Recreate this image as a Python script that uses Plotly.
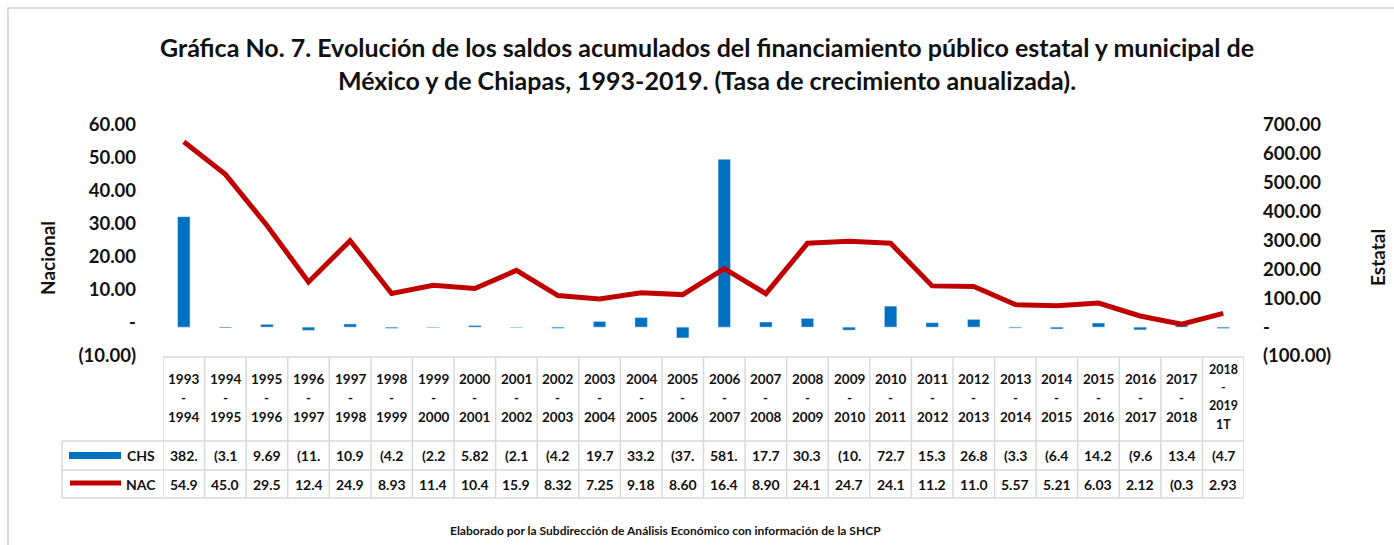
import plotly.graph_objects as go

periods = ["1993-1994", "1994-1995", "1995-1996", "1996-1997", "1997-1998", "1998-1999",
           "1999-2000", "2000-2001", "2001-2002", "2002-2003", "2003-2004", "2004-2005",
           "2005-2006", "2006-2007", "2007-2008", "2008-2009", "2009-2010", "2010-2011",
           "2011-2012", "2012-2013", "2013-2014", "2014-2015", "2015-2016", "2016-2017",
           "2017-2018", "2018-2019 1T"]
chs = [382.45, -3.15, 9.69, -11.3, 10.95, -4.25, -2.25, 5.82, -2.15, -4.25, 19.75, 33.25,
       -37.5, 581.3, 17.75, 30.35, -10.5, 72.75, 15.35, 26.85, -3.35, -6.45, 14.25, -9.65,
       13.45, -4.75]
nac = [54.95, 45.05, 29.55, 12.45, 24.95, 8.93, 11.45, 10.45, 15.95, 8.32, 7.25, 9.18,
       8.60, 16.45, 8.90, 24.15, 24.75, 24.15, 11.25, 11.05, 5.57, 5.21, 6.03, 2.12,
       -0.35, 2.93]
left_ticks = [-10, 0, 10, 20, 30, 40, 50, 60]
right_ticks = [-100, 0, 100, 200, 300, 400, 500, 600, 700]


def fmt(v):
    s = "(%.2f)" % abs(v) if v < 0 else "%.2f" % v
    return s[:4]


def ticklab(v):
    if v == 0:
        return "-"
    return "(%.2f)" % abs(v) if v < 0 else "%.2f" % v


FONT = "Lato"
BLUE = "#0070C0"
RED = "#C00000"
GRID = "#d9d9d9"

W, H = 1394, 545
L, R, T, B = 163, 1244, 125, 356
PH = B - T
PW = R - L


def py(p):
    return (B - p) / PH


def px(p):
    return (p - L) / PW


fig = go.Figure()
fig.add_trace(go.Bar(x=periods, y=chs, marker_color=BLUE, width=0.3, name="CHS", yaxis="y"))
fig.add_trace(go.Scatter(x=periods, y=nac, mode="lines", line=dict(color=RED, width=5),
                         name="NAC", yaxis="y2"))

tickfont = dict(family=FONT, size=18.5, color="#111", weight="bold")
fig.update_layout(
    width=W, height=H,
    margin=dict(l=L, r=W - R, t=T, b=H - B),
    paper_bgcolor="white", plot_bgcolor="white",
    showlegend=False,
    xaxis=dict(type="category", range=[-0.5, len(periods) - 0.5], showticklabels=False,
               showgrid=False, zeroline=False, showline=False),
    yaxis=dict(side="right", range=[-100, 700], tickvals=right_ticks,
               ticktext=[ticklab(v) for v in right_ticks], showgrid=False, zeroline=False,
               tickfont=tickfont, ticklabelstandoff=18),
    yaxis2=dict(side="left", overlaying="y", range=[-10, 60], tickvals=left_ticks,
                ticktext=[ticklab(v) for v in left_ticks], showgrid=False, zeroline=False,
                tickfont=tickfont, ticklabelstandoff=26),
)

shapes = []
ann = []


def note(x, y, text, font, xref="paper", angle=0):
    ann.append(dict(xref=xref, yref="paper", x=x, y=y, showarrow=False, text=text,
                    font=font, xanchor="center", yanchor="middle", textangle=angle,
                    align="center"))


# outer frame
shapes.append(dict(type="rect", xref="paper", yref="paper", x0=px(8), x1=px(1400),
                   y0=py(560), y1=py(8), line=dict(color="#d0d0d0", width=1.5)))

# title
note(px(707), py(63),
     "Gráfica No. 7. Evolución de los saldos acumulados del financiamiento público estatal y municipal de<br>México y de Chiapas, 1993-2019. (Tasa de crecimiento anualizada).",
     dict(family=FONT, size=25, color="#111", weight="bold"))
# axis titles
note(px(47), py(258), "Nacional", dict(family=FONT, size=19, color="#111", weight="bold"), angle=-90)
note(px(1377), py(258), "Estatal", dict(family=FONT, size=19, color="#111", weight="bold"), angle=-90)
# footer
note(px(665), py(530),
     "Elaborado por la Subdirección de Análisis Económico con información de la SHCP",
     dict(family=FONT, size=12, color="#111", weight="bold"))

# table grid
y_head_top, y_head_bot, y_mid, y_bot = 357, 441, 470, 498
n = len(periods)
shapes.append(dict(type="line", xref="x", yref="paper", x0=-0.5, x1=n - 0.5,
                   y0=py(y_head_top), y1=py(y_head_top), line=dict(color=GRID, width=1.5)))
for yy in [y_head_bot, y_mid, y_bot]:
    shapes.append(dict(type="line", xref="paper", yref="paper", x0=px(62), x1=1,
                       y0=py(yy), y1=py(yy), line=dict(color=GRID, width=1.5)))
for i in range(n + 1):
    shapes.append(dict(type="line", xref="x", yref="paper", x0=i - 0.5, x1=i - 0.5,
                       y0=py(y_head_top), y1=py(y_bot), line=dict(color=GRID, width=1.5)))
shapes.append(dict(type="line", xref="paper", yref="paper", x0=px(62), x1=px(62),
                   y0=py(y_head_bot), y1=py(y_bot), line=dict(color=GRID, width=1.5)))

# legend keys
shapes.append(dict(type="rect", xref="paper", yref="paper", x0=px(69), x1=px(121),
                   y0=py(459), y1=py(452), fillcolor=BLUE, line=dict(width=0)))
shapes.append(dict(type="line", xref="paper", yref="paper", x0=px(70), x1=px(121),
                   y0=py(483), y1=py(483), line=dict(color=RED, width=5)))
cellfont = dict(family=FONT, size=14, color="#111", weight="bold")
note(px(141), py(455), "CHS", cellfont)
note(px(141), py(484), "NAC", cellfont)

headfont = dict(family=FONT, size=13.5, color="#111", weight="bold")
for i, p in enumerate(periods):
    a, b = p.split("-")
    parts = b.split(" ")
    lines = [a, "-"] + parts
    if len(lines) == 3:
        ys = [379, 398, 417]
        f = headfont
    else:
        ys = [369, 387, 405, 424]
        f = dict(headfont, size=12.5)
    for t, yy in zip(lines, ys):
        note(p, py(yy), t, f, xref="x")
    note(p, py(455), fmt(chs[i]), cellfont, xref="x")
    note(p, py(484), fmt(nac[i]), cellfont, xref="x")

fig.update_layout(shapes=shapes, annotations=ann)
fig.write_html("out.html", config={"displayModeBar": False},
               post_script="document.body.style.margin='0';")
